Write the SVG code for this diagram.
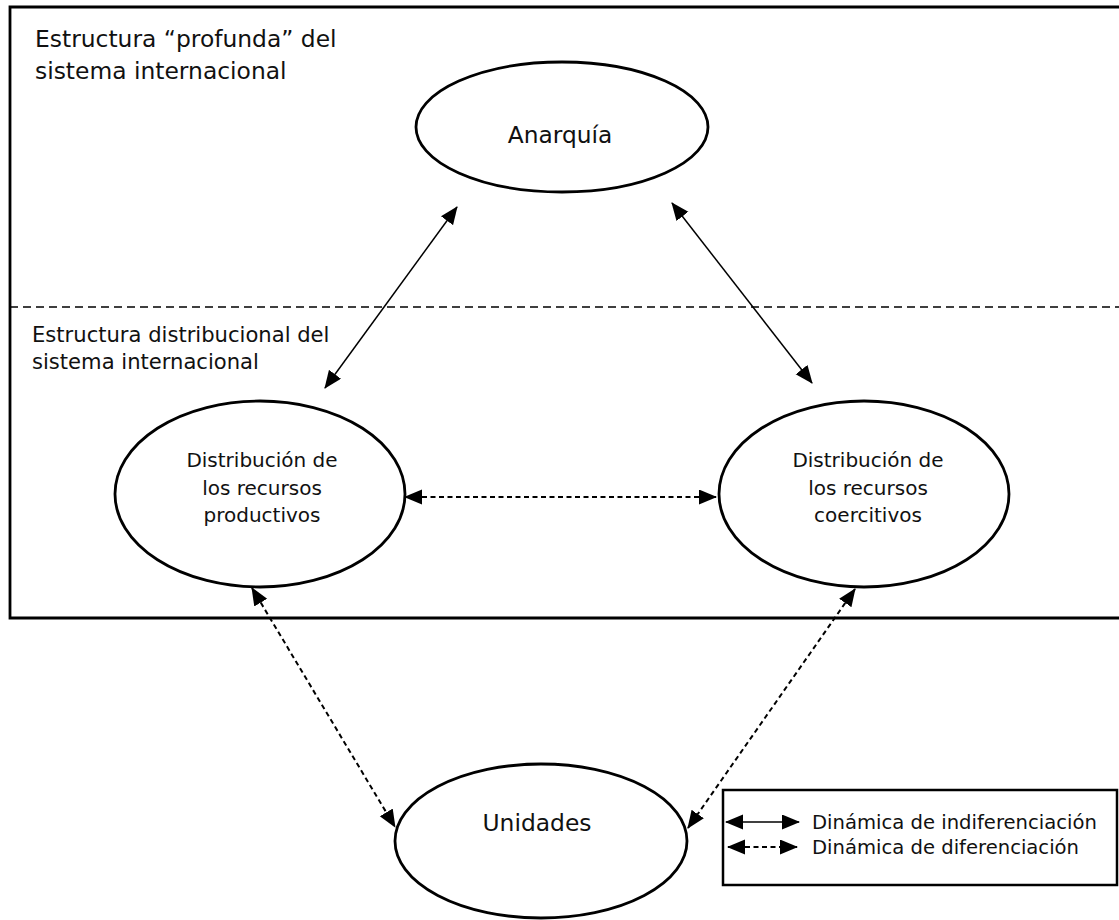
<svg xmlns="http://www.w3.org/2000/svg" width="1119" height="920" viewBox="0 0 1119 920">
<defs>
<style>
text{font-family:"DejaVu Sans","Verdana",sans-serif;fill:#111}
.node{fill:#fff;stroke:#000;stroke-width:2.8}
.solid{stroke:#000;stroke-width:1.5;fill:none}
.dash{stroke:#000;stroke-width:2;fill:none;stroke-dasharray:5 3.5}
.frame{stroke:#000;stroke-width:2.8;fill:none}
</style>
<marker id="ah" markerUnits="userSpaceOnUse" markerWidth="20" markerHeight="16" refX="17" refY="7.5" orient="auto-start-reverse" viewBox="0 0 20 16">
<path d="M0,0 L18,7.5 L0,15 z" fill="#000"/>
</marker>
</defs>
<rect width="1119" height="920" fill="#fff"/>
<g id="frame">
<path class="frame" d="M1125,7 H10 V618 H1125"/>
<line x1="10" y1="307" x2="1119" y2="307" stroke="#000" stroke-width="1.5" stroke-dasharray="8 5"/>
<text x="35" y="47" font-size="23.4">Estructura “profunda” del</text>
<text x="35" y="79" font-size="23.4">sistema internacional</text>
<text x="32" y="342" font-size="21.1">Estructura distribucional del</text>
<text x="32" y="369" font-size="21.1">sistema internacional</text>
</g>
<g id="connectors">
<line class="solid" x1="457" y1="207" x2="325" y2="388" marker-start="url(#ah)" marker-end="url(#ah)"/>
<line class="solid" x1="672" y1="203" x2="812" y2="383" marker-start="url(#ah)" marker-end="url(#ah)"/>
<line class="dash" x1="405" y1="497" x2="716" y2="497" marker-start="url(#ah)" marker-end="url(#ah)"/>
<line class="dash" x1="252" y1="588" x2="395" y2="827" marker-start="url(#ah)" marker-end="url(#ah)"/>
<line class="dash" x1="855" y1="589" x2="688" y2="828" marker-start="url(#ah)" marker-end="url(#ah)"/>
</g>
<g id="anarquia">
<ellipse class="node" cx="562" cy="127" rx="146" ry="65"/>
<text x="560" y="143" font-size="23.3" text-anchor="middle">Anarquía</text>
</g>
<g id="productivos">
<ellipse class="node" cx="260" cy="494" rx="145" ry="93"/>
<text x="262" y="467" font-size="20" text-anchor="middle">Distribución de</text>
<text x="262" y="495" font-size="20" text-anchor="middle">los recursos</text>
<text x="262" y="522" font-size="20" text-anchor="middle">productivos</text>
</g>
<g id="coercitivos">
<ellipse class="node" cx="864" cy="494" rx="145" ry="93"/>
<text x="868" y="467" font-size="20" text-anchor="middle">Distribución de</text>
<text x="868" y="495" font-size="20" text-anchor="middle">los recursos</text>
<text x="868" y="522" font-size="20" text-anchor="middle">coercitivos</text>
</g>
<g id="unidades">
<ellipse class="node" cx="541" cy="841" rx="146" ry="77"/>
<text x="537" y="831" font-size="23.4" text-anchor="middle">Unidades</text>
</g>
<g id="legend">
<rect x="723" y="790" width="394" height="95" fill="#fff" stroke="#000" stroke-width="2.5"/>
<line class="solid" x1="726" y1="822" x2="799" y2="822" marker-start="url(#ah)" marker-end="url(#ah)"/>
<line class="dash" x1="728" y1="847" x2="797" y2="847" stroke-width="1.5" marker-start="url(#ah)" marker-end="url(#ah)"/>
<text x="812" y="829" font-size="19.6">Dinámica de indiferenciación</text>
<text x="812" y="854" font-size="19.6">Dinámica de diferenciación</text>
</g>
</svg>
